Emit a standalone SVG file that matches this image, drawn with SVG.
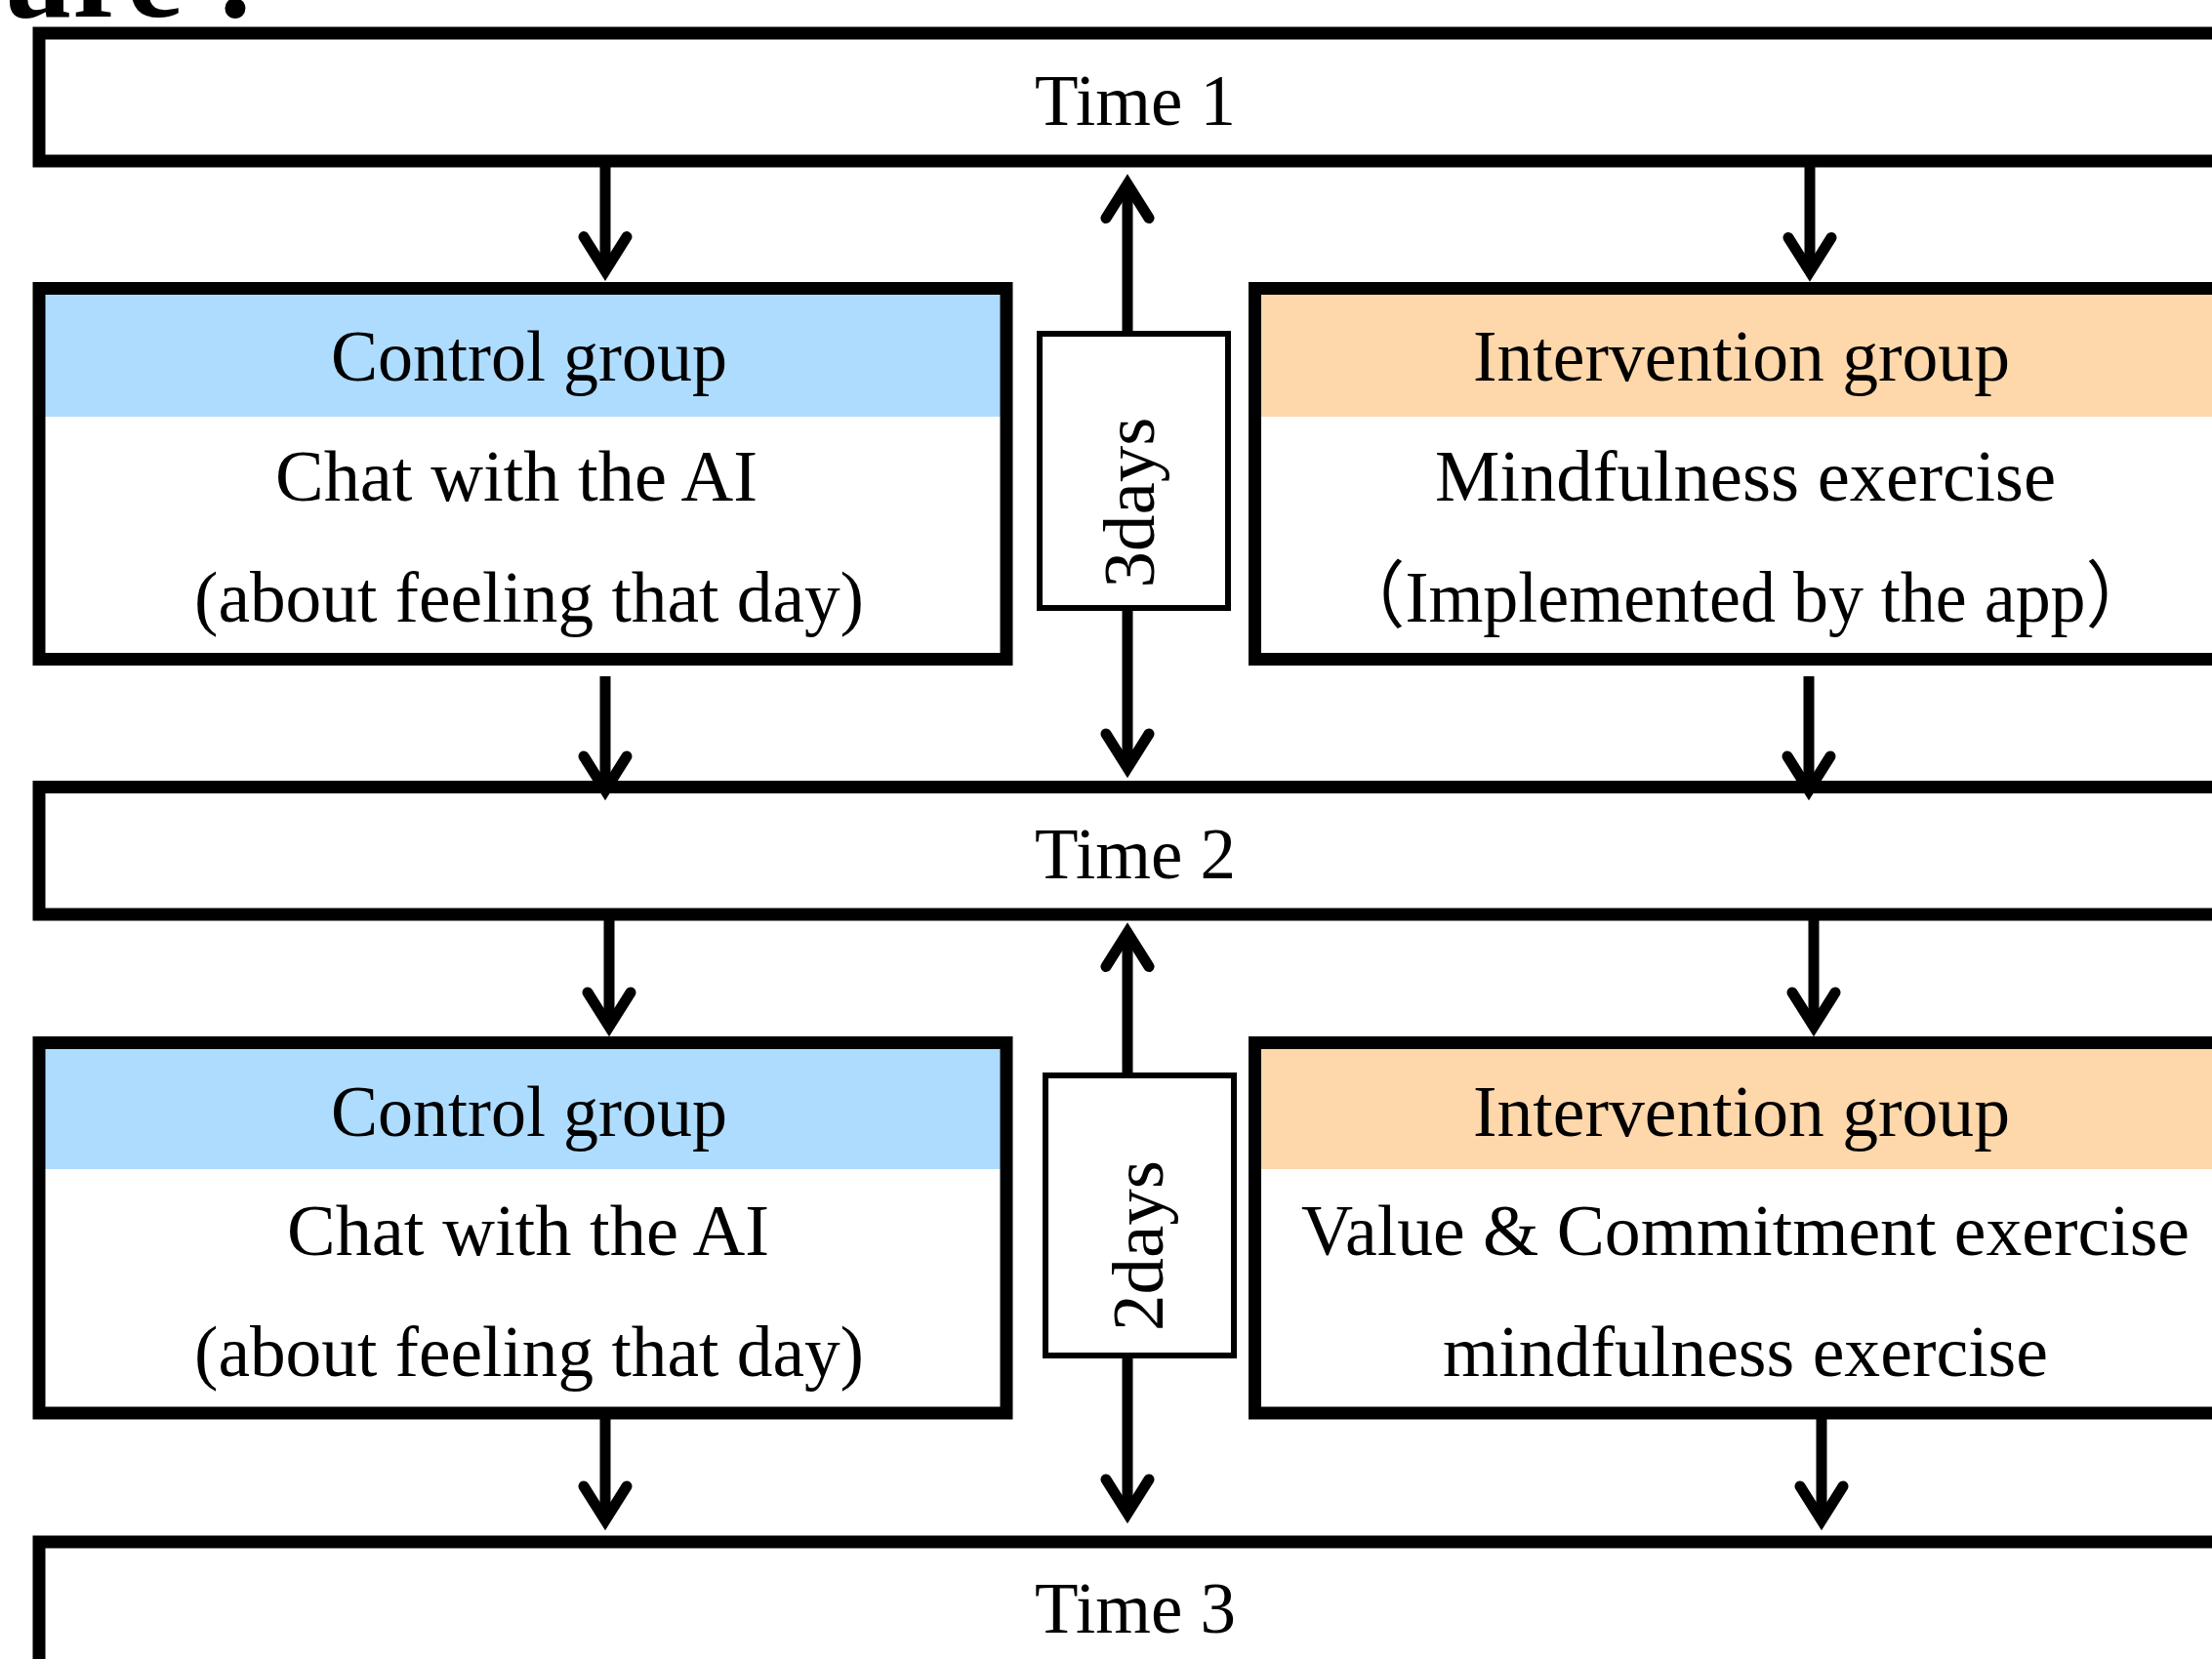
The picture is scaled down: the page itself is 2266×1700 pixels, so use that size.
<svg xmlns="http://www.w3.org/2000/svg" width="2266" height="1700" viewBox="0 0 2266 1700">
<style>
.bg{fill:#fff}
.box{fill:none;stroke:#000;stroke-width:13}
.tbox{fill:#fff;stroke:#000;stroke-width:6}
.blue{fill:#AEDCFE}
.orange{fill:#FED7AA}
.t{font-family:"Liberation Serif","Noto Sans CJK SC",serif;font-size:75px;fill:#000;text-anchor:middle}
.title{font-family:"Liberation Serif",serif;font-size:130px;font-weight:bold;fill:#000}
.conn{fill:none;stroke:#000;stroke-width:11}
</style>
<defs>
<marker id="head" markerUnits="userSpaceOnUse" orient="auto" refX="0" refY="0" viewBox="-45 -35 60 70" markerWidth="60" markerHeight="70" overflow="visible">
<path d="M-35,-22 L0,0 L-35,22" fill="none" stroke="#000" stroke-width="11" stroke-linecap="round" stroke-linejoin="miter" stroke-miterlimit="10"/>
</marker>
</defs>
<rect class="bg" x="0" y="0" width="2266" height="1700"/>
<text class="title" x="2" y="16.5">ure :</text>

<g id="time1">
<rect class="box" x="40" y="34" width="2300" height="131"/>
<text class="t" x="1163" y="127.5" textLength="206" lengthAdjust="spacingAndGlyphs">Time 1</text>
</g>

<g id="control1">
<rect class="blue" x="46" y="302" width="979" height="125"/>
<rect class="box" x="40" y="295.5" width="991" height="380"/>
<text class="t" x="542" y="390" textLength="406" lengthAdjust="spacingAndGlyphs">Control group</text>
<text class="t" x="529" y="513" textLength="494" lengthAdjust="spacingAndGlyphs">Chat with the AI</text>
<text class="t" x="542" y="637" textLength="686" lengthAdjust="spacingAndGlyphs">(about feeling that day)</text>
</g>

<g id="interval1">
<rect class="tbox" x="1065" y="342" width="193" height="281"/>
<text class="t" transform="translate(1182,515) rotate(-90)" x="0" y="0">3days</text>
</g>

<g id="intervention1">
<rect class="orange" x="1292" y="302" width="1000" height="125"/>
<rect class="box" x="1285.5" y="295.5" width="1000" height="380"/>
<text class="t" x="1784" y="390" textLength="550" lengthAdjust="spacingAndGlyphs">Intervention group</text>
<text class="t" x="1788" y="513" textLength="636" lengthAdjust="spacingAndGlyphs">Mindfulness exercise</text>
<text class="t" x="1788" y="637" textLength="841" lengthAdjust="spacingAndGlyphs">（Implemented by the app）</text>
</g>

<g id="time2">
<rect class="box" x="40" y="806.5" width="2300" height="130.5"/>
<text class="t" x="1163" y="900" textLength="206" lengthAdjust="spacingAndGlyphs">Time 2</text>
</g>

<g id="control2">
<rect class="blue" x="46" y="1075" width="979" height="123"/>
<rect class="box" x="40" y="1068.5" width="991" height="379.5"/>
<text class="t" x="542" y="1163.5" textLength="406" lengthAdjust="spacingAndGlyphs">Control group</text>
<text class="t" x="541" y="1286" textLength="494" lengthAdjust="spacingAndGlyphs">Chat with the AI</text>
<text class="t" x="542" y="1410" textLength="686" lengthAdjust="spacingAndGlyphs">(about feeling that day)</text>
</g>

<g id="interval2">
<rect class="tbox" x="1071" y="1102" width="193" height="287"/>
<text class="t" transform="translate(1191,1276.5) rotate(-90)" x="0" y="0">2days</text>
</g>

<g id="intervention2">
<rect class="orange" x="1292" y="1075" width="1000" height="123"/>
<rect class="box" x="1285.5" y="1068.5" width="1000" height="379.5"/>
<text class="t" x="1784" y="1163.5" textLength="550" lengthAdjust="spacingAndGlyphs">Intervention group</text>
<text class="t" x="1788" y="1286" textLength="910" lengthAdjust="spacingAndGlyphs">Value &amp; Commitment exercise</text>
<text class="t" x="1788" y="1410" textLength="620" lengthAdjust="spacingAndGlyphs">mindfulness exercise</text>
</g>

<g id="time3">
<rect class="box" x="40" y="1580" width="2300" height="200"/>
<text class="t" x="1163" y="1673" textLength="206" lengthAdjust="spacingAndGlyphs">Time 3</text>
</g>

<g id="connectors">
<path class="conn" d="M620,171 L620,277.6" marker-end="url(#head)"/>
<path class="conn" d="M1854,171 L1854,278.5" marker-end="url(#head)"/>
<path class="conn" d="M1155,339 L1155,188.5" marker-end="url(#head)"/>
<path class="conn" d="M1155,626 L1155,787" marker-end="url(#head)"/>
<path class="conn" d="M620,693 L620,810" marker-end="url(#head)"/>
<path class="conn" d="M1853,693 L1853,810" marker-end="url(#head)"/>
<path class="conn" d="M624,943 L624,1052" marker-end="url(#head)"/>
<path class="conn" d="M1858,943 L1858,1052" marker-end="url(#head)"/>
<path class="conn" d="M1155,1099 L1155,955.5" marker-end="url(#head)"/>
<path class="conn" d="M1155,1392 L1155,1551" marker-end="url(#head)"/>
<path class="conn" d="M620,1454 L620,1558" marker-end="url(#head)"/>
<path class="conn" d="M1866,1454 L1866,1558" marker-end="url(#head)"/>
</g>
</svg>
